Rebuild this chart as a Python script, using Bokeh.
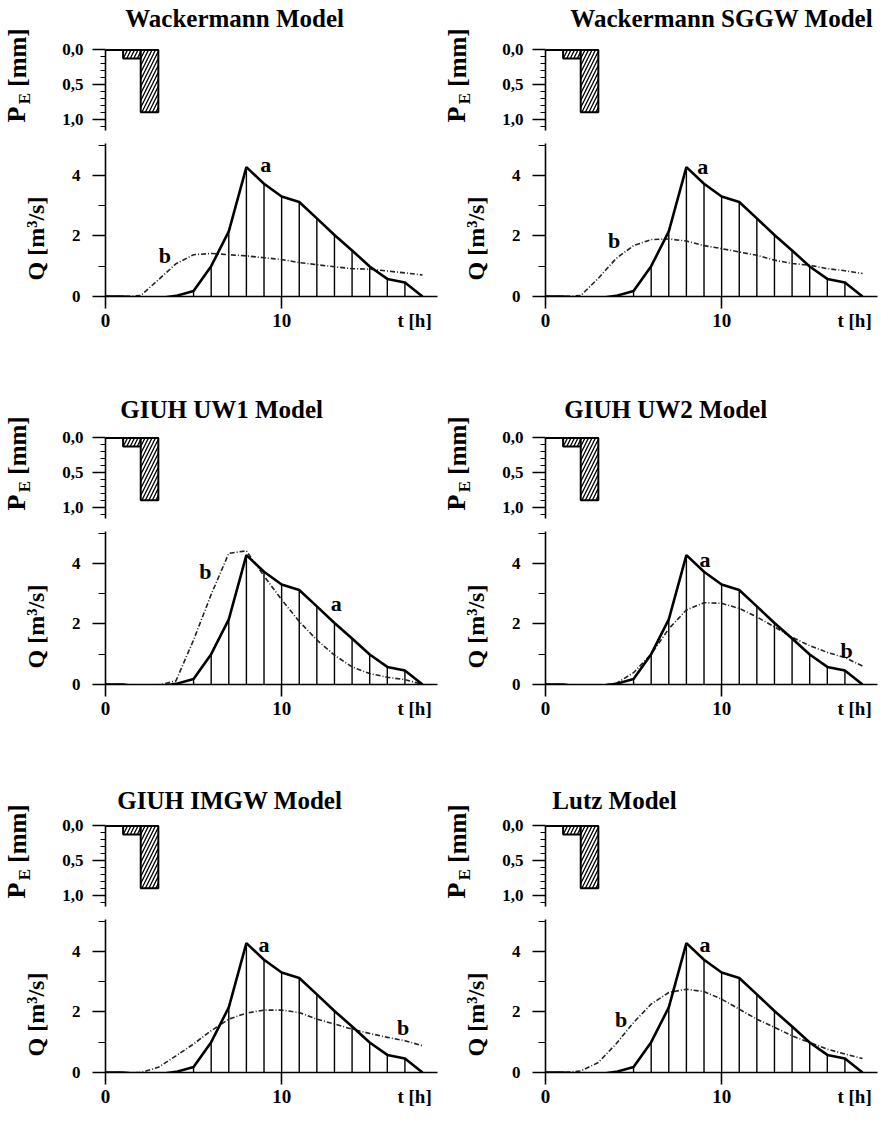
import math
from bokeh.plotting import figure
from bokeh.models import Range1d, FixedTicker, Label
from bokeh.layouts import column, row
from bokeh.embed import file_html
from bokeh.resources import INLINE

# ---------------- data ----------------
hours = [0, 1, 2, 3, 4, 5, 6, 7, 8, 9, 10, 11, 12, 13, 14, 15, 16, 17, 18]

# observed hydrograph (a), m3/s
observed = [0.0, 0.0, -0.08, -0.06, 0.02, 0.18, 1.0, 2.15, 4.27, 3.72, 3.3,
            3.12, 2.58, 2.03, 1.52, 0.99, 0.58, 0.46, 0.0]

# model hydrographs (b), m3/s
wackermann = [0.0, 0.0, 0.03, 0.55, 1.08, 1.38, 1.42, 1.38, 1.34, 1.28, 1.22,
              1.12, 1.05, 0.98, 0.92, 0.9, 0.84, 0.78, 0.71]
wackermann_sggw = [0.0, 0.0, 0.03, 0.6, 1.25, 1.68, 1.88, 1.9, 1.83, 1.68, 1.58,
                   1.47, 1.36, 1.2, 1.09, 1.03, 0.92, 0.85, 0.76]
giuh_uw1 = [0.0, 0.0, -0.05, -0.02, 0.12, 1.47, 2.97, 4.33, 4.41, 3.58, 2.8,
            2.08, 1.47, 0.97, 0.58, 0.36, 0.24, 0.16, 0.0]
giuh_uw2 = [0.0, 0.0, -0.04, -0.03, 0.03, 0.39, 1.0, 1.84, 2.46, 2.7, 2.68,
            2.51, 2.23, 1.9, 1.56, 1.28, 1.06, 0.89, 0.61]
giuh_imgw = [0.0, 0.0, 0.0, 0.17, 0.55, 0.94, 1.38, 1.76, 1.96, 2.06, 2.06,
             1.98, 1.76, 1.6, 1.43, 1.29, 1.16, 1.05, 0.88]
lutz = [0.0, 0.0, 0.05, 0.33, 0.94, 1.65, 2.26, 2.64, 2.75, 2.67, 2.42,
        2.09, 1.76, 1.49, 1.21, 0.99, 0.77, 0.61, 0.46]

titles = ["Wackermann Model", "Wackermann SGGW Model", "GIUH UW1 Model",
          "GIUH UW2 Model", "GIUH IMGW Model", "Lutz Model"]
models = [wackermann, wackermann_sggw, giuh_uw1, giuh_uw2, giuh_imgw, lutz]

# effective rainfall (hyetograph), mm
pe_start = [1, 2]
pe_end = [2, 3]
pe_depth = [0.12, 0.89]

pe_ticks = [0.0, 0.5, 1.0]
pe_tick_labels = ["0,0", "0,5", "1,0"]
pe_minor = [0.1, 0.2, 0.3, 0.4, 0.6, 0.7, 0.8, 0.9, 1.1]
q_ticks = [0, 2, 4]
q_tick_labels = ["0", "2", "4"]
q_minor = [1, 3, 5]
t_ticks = [0, 10]
t_tick_labels = ["0", "10"]
t_axis_title = "t [h]"
t_axis_title_at = 17.55   # where the time-axis title sits along the axis

# ---------------- layout / style ----------------
FONT = "Liberation Serif"
X_RANGE = (0, 18.85)
STRIP_W = 55
title_pos = [(1.12, -0.45), (1.41, -0.45), (0.84, -0.41),
             (1.07, -0.41), (0.67, -0.37), (0.39, -0.37)]
a_pos = [(9.1, 4.35), (8.93, 4.3), (13.1, 2.69), (9.06, 4.13), (9.0, 4.24), (9.05, 4.24)]
b_pos = [(3.37, 1.36), (3.9, 1.85), (5.67, 3.74), (17.1, 1.12), (16.9, 1.49), (4.3, 1.76)]


def style_axis(ax, size="17px"):
    ax.axis_line_width = 1.6
    ax.axis_line_color = "black"
    ax.major_tick_line_width = 1.6
    ax.minor_tick_line_width = 1.2
    ax.major_tick_in = 0
    ax.minor_tick_in = 0
    ax.major_label_text_font = FONT
    ax.major_label_text_font_style = "bold"
    ax.major_label_text_font_size = size
    ax.major_label_text_color = "black"


def make_panel(i):
    right_col = (i % 2 == 1)
    last_row = (i >= 4)
    br = 2 if right_col else 3
    q_bottom = 35 if last_row else 92

    # ---- hyetograph (frame also holds the panel title) ----
    pe = figure(frame_width=332, frame_height=130,
                x_range=Range1d(*X_RANGE), y_range=Range1d(1.15, -0.707),
                x_axis_location=None, output_backend="svg", toolbar_location=None,
                min_border_left=50, min_border_right=br, min_border_top=0,
                min_border_bottom=6)
    pe.outline_line_color = None
    pe.xgrid.visible = False
    pe.ygrid.visible = False
    ax = pe.yaxis[0]
    ax.bounds = (0, 1.15)
    ax.ticker = FixedTicker(ticks=pe_ticks, minor_ticks=pe_minor)
    ax.major_label_overrides = dict(zip(pe_ticks, pe_tick_labels))
    style_axis(ax)
    ax.major_tick_out = 13
    ax.minor_tick_out = 5
    ax.major_label_standoff = 9

    pe.line(x=[hours[0], pe_end[-1]], y=[0, 0], line_color="black", line_width=2)
    pe.quad(left=pe_start, right=pe_end, top=0, bottom=pe_depth,
            fill_color="white", line_color="black", line_width=2,
            hatch_pattern="/", hatch_color="black", hatch_weight=1.3, hatch_scale=7)

    tx, ty = title_pos[i]
    pe.add_layout(Label(x=tx, y=ty, text=titles[i], text_font=FONT,
                        text_font_style="bold", text_font_size="25px",
                        text_align="left", text_baseline="middle", text_color="black"))

    # ---- hydrograph ----
    q = figure(frame_width=332, frame_height=153,
               x_range=Range1d(*X_RANGE), y_range=Range1d(0, 5.05),
               output_backend="svg", toolbar_location=None,
               min_border_left=50, min_border_right=br, min_border_top=7,
               min_border_bottom=q_bottom)
    q.outline_line_color = None
    q.xgrid.visible = False
    q.ygrid.visible = False
    xa = q.xaxis[0]
    # labelled positions: the two hour ticks plus the axis title at the right end;
    # visible tick marks are drawn as minor ticks at the hour ticks only
    xa.ticker = FixedTicker(ticks=t_ticks + [t_axis_title_at], minor_ticks=t_ticks)
    xa.major_label_overrides = dict(zip(t_ticks + [t_axis_title_at],
                                        t_tick_labels + [t_axis_title]))
    style_axis(xa, "19px")
    xa.major_tick_out = 12
    xa.major_tick_line_color = None
    xa.minor_tick_out = 12
    xa.minor_tick_line_width = 1.6
    xa.major_label_standoff = 1
    ya = q.yaxis[0]
    ya.ticker = FixedTicker(ticks=q_ticks, minor_ticks=q_minor)
    ya.major_label_overrides = dict(zip(q_ticks, q_tick_labels))
    style_axis(ya)
    ya.major_tick_out = 13
    ya.minor_tick_out = 7
    ya.major_label_standoff = 12

    hx = [h for h, v in zip(hours, observed) if v > 0.05]
    hy = [v for v in observed if v > 0.05]
    q.segment(x0=hx, y0=[0] * len(hx), x1=hx, y1=hy, line_color="black", line_width=1.4)
    q.line(hours, models[i], line_color="#222222", line_width=1.6, line_dash="5 2 1 2")
    q.line(hours, observed, line_color="black", line_width=2.6)

    ltxt = dict(text_font=FONT, text_font_style="bold", text_font_size="22px",
                text_align="center", text_baseline="middle", text_color="black")
    q.add_layout(Label(x=a_pos[i][0], y=a_pos[i][1], text="a", **ltxt))
    q.add_layout(Label(x=b_pos[i][0], y=b_pos[i][1], text="b", **ltxt))

    # ---- left strip holding the rotated axis titles (pixel coordinates) ----
    strip_h = 136 + 7 + 153 + q_bottom
    s = figure(frame_width=STRIP_W, frame_height=strip_h,
               x_range=Range1d(0, STRIP_W), y_range=Range1d(strip_h, 0),
               x_axis_location=None, y_axis_location=None,
               output_backend="svg", toolbar_location=None,
               min_border_left=0, min_border_right=0, min_border_top=0,
               min_border_bottom=0)
    s.outline_line_color = None
    s.xgrid.visible = False
    s.ygrid.visible = False
    lbl = dict(text_font=FONT, text_font_style="bold", angle=math.pi / 2,
               text_align="center", text_baseline="middle", text_color="black")
    s.add_layout(Label(x=16, y=114, text="P", text_font_size="26px", **lbl))
    s.add_layout(Label(x=24, y=98, text="E", text_font_size="17px", **lbl))
    s.add_layout(Label(x=17, y=57, text="[mm]", text_font_size="25px", **lbl))
    s.add_layout(Label(x=35.5, y=238, text="Q [m³/s]", text_font_size="24px", **lbl))

    return row(s, column(pe, q))


panels = [make_panel(i) for i in range(6)]
layout = column(row(panels[0], panels[1]),
                row(panels[2], panels[3]),
                row(panels[4], panels[5]))

open("out.html", "w").write(file_html(layout, INLINE))
